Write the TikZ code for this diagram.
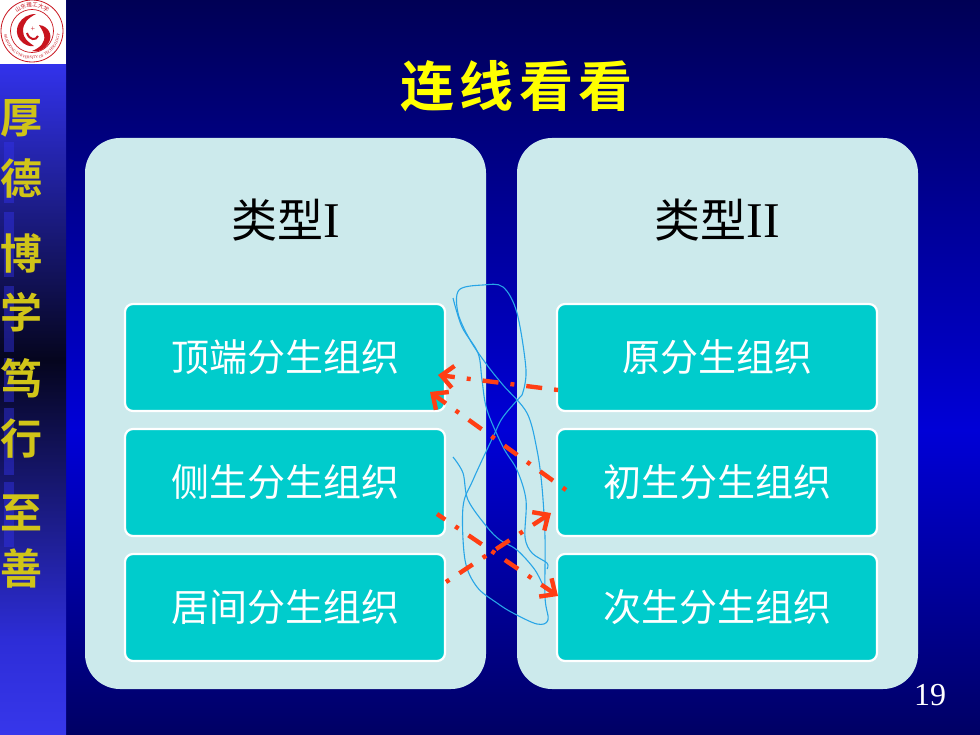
\documentclass[tikz,border=0pt]{standalone}
\usepackage{fontspec}
\setmainfont{Liberation Serif}
\newfontfamily\cjk{Noto Sans CJK SC}
\newfontfamily\cjkb{Noto Sans CJK SC Bold}
\usetikzlibrary{decorations.text,calc,arrows.meta}
\definecolor{panelc}{RGB}{204,234,236}
\definecolor{boxc}{RGB}{0,204,204}
\definecolor{arrc}{RGB}{255,62,20}
\definecolor{inkc}{RGB}{40,165,230}
\definecolor{sideY}{RGB}{208,196,24}
\definecolor{titleY}{RGB}{255,255,0}
\definecolor{logoR}{RGB}{200,20,30}
\definecolor{bgA}{RGB}{0,0,100}
\definecolor{bgB}{RGB}{0,0,215}
\definecolor{bgC}{RGB}{0,0,85}
\definecolor{sdA}{RGB}{55,55,235}
\definecolor{sdB}{RGB}{45,45,215}
\definecolor{sdC}{RGB}{5,5,30}
\definecolor{sdD}{RGB}{50,50,235}
\pgfdeclareverticalshading{bgshade}{100bp}{color(0bp)=(bgA); color(25bp)=(bgA); color(45.75bp)=(bgB); color(75bp)=(bgC); color(100bp)=(bgC)}
\pgfdeclareverticalshading{sideshade}{100bp}{color(0bp)=(sdA); color(25bp)=(sdA); color(31.5bp)=(sdB); color(50.5bp)=(sdC); color(70.6bp)=(sdD); color(100bp)=(sdD)}
\tikzset{
 panel/.style={fill=panelc,rounded corners=35},
 item/.style={draw=white,line width=2.2pt,fill=boxc,rounded corners=8,minimum width=320,minimum height=107,inner sep=0pt,text=white,font=\fontsize{38}{38}\cjk},
 head/.style={text=black,font=\fontsize{50}{50}\selectfont},
 headcjk/.style={font=\fontsize{46}{46}\cjk},
 sidechar/.style={text=sideY,font=\fontsize{42}{42}\cjkb},
 titlechar/.style={text=titleY,font=\fontsize{54}{54}\cjkb},
 link/.style={draw=arrc,line width=4.4pt,dash pattern=on 4pt off 12pt on 16pt off 12pt,-{Straight Barb[length=12pt,width=22pt,line width=4.4pt]}},
 ink/.style={draw=inkc,line width=1.1pt,smooth,tension=0.55},
 sideblock/.style={fill=sdD,fill opacity=0.45}
}
\begin{document}
\begin{tikzpicture}[x=1pt,y=-1pt]
\useasboundingbox (0,0) rectangle (980,735);
\fill[shading=bgshade] (0,0) rectangle (980,735);
\fill[shading=sideshade] (0,0) rectangle (66,735);
% side blocks
\fill[sideblock] (4,142) rectangle (14,203);
\fill[sideblock] (4,212) rectangle (14,277);
\fill[sideblock] (4,286) rectangle (14,352);
\fill[sideblock] (4,358) rectangle (14,402);
\fill[sideblock] (4,408) rectangle (14,475);
\fill[sideblock] (4,482) rectangle (14,547);
% logo
\fill[white] (0,0) rectangle (66,64);
\draw[logoR,line width=0.8pt] (32,31) circle (31);
\draw[logoR,line width=0.7pt] (32,31) circle (21.5);
\fill[logoR] (36,14) .. controls (20,14) and (12,30) .. (20,40) .. controls (24,45) and (30,47) .. (34,46) .. controls (28,42) and (23,38) .. (23,31) .. controls (23,23) and (28,18) .. (36,14) -- cycle;
\fill[logoR] (39,25) .. controls (48,26) and (54,35) .. (48,44) .. controls (45,49) and (38,53) .. (32,51) .. controls (40,48) and (46,42) .. (44,35) .. controls (43,31) and (41,28) .. (39,25) -- cycle;
\draw[logoR,line width=2pt] (27,33) .. controls (29,40) and (36,41) .. (38,36);
\node[text=logoR,font=\fontsize{8}{8}\selectfont,inner sep=0pt] (star) at (33,29) {+};
\path[decorate,decoration={text along path,text align=center,text={|\fontsize{4}{4}\selectfont\color{logoR}|SHANDONG UNIVERSITY OF TECHNOLOGY}}]
 (4,31) arc[start angle=180,end angle=0,radius=28];
\path[decorate,decoration={text along path,text align=center,text={|\fontsize{5.5}{5.5}\cjk\color{logoR}|山东理工大学}}]
 (8,27) arc[start angle=-170,end angle=-10,radius=24.4];
% side characters
\node[sidechar] (s1) at (21,118) {厚};
\node[sidechar] (s2) at (22,178) {德};
\node[sidechar] (s3) at (21,253) {博};
\node[sidechar] (s4) at (21,312) {学};
\node[sidechar] (s5) at (21,378) {笃};
\node[sidechar] (s6) at (21,439) {行};
\node[sidechar] (s7) at (21,513) {至};
\node[sidechar] (s8) at (21,568) {善};
% title
\node[titlechar] (t1) at (427,86) {连};
\node[titlechar] (t2) at (486,86) {线};
\node[titlechar] (t3) at (546,86) {看};
\node[titlechar] (t4) at (605,86) {看};
% panels
\fill[panel] (85,138) rectangle (486,689);
\fill[panel] (517,138) rectangle (918,689);
\node[head] (h1) at (286,220) {{\fontsize{46}{46}\cjk 类型}I};
\node[head] (h2) at (717,220) {{\fontsize{46}{46}\cjk 类型}II};
\node[item] (a1) at (285,357.5) {顶端分生组织};
\node[item] (a2) at (285,482.5) {侧生分生组织};
\node[item] (a3) at (285,607.5) {居间分生组织};
\node[item] (b1) at (717,357.5) {原分生组织};
\node[item] (b2) at (717,482.5) {初生分生组织};
\node[item] (b3) at (717,607.5) {次生分生组织};
\node[text=white,font=\fontsize{32}{32}\selectfont] (pg) at (930,695) {19};
% ink
\draw[ink] plot coordinates {(453,298) (462,327) (478,353) (482,380) (487,410) (503,447) (517,470) (526,500) (525,537) (532,553) (547,563) (547,569)};
\draw[ink] plot coordinates {(522,395) (526,370) (517,313) (503,287) (483,285) (459,290) (458,313) (470,340) (487,365) (503,385) (527,413) (537,450) (542,487) (545,537) (545,597) (548,620) (537,624) (513,613) (497,603) (477,587) (465,560) (463,507) (473,480) (493,437) (503,417) (522,395)};
\draw[ink] plot coordinates {(453,457) (463,473) (468,500) (487,527) (500,540) (517,550) (535,570) (545,590)};
% connectors
\coordinate (p1) at (558,390);
\coordinate (q1) at (438,375);
\coordinate (p2) at (566,490);
\coordinate (q2) at (430,392);
\coordinate (p3) at (437,514);
\coordinate (q3) at (558,596);
\coordinate (p4) at (446,582);
\coordinate (q4) at (551,513);
\draw[link] (p1) -- (q1);
\draw[link] (p2) -- (q2);
\draw[link,dash phase=22pt] (p3) -- (q3);
\draw[link] (p4) -- (q4);
\end{tikzpicture}
\end{document}
